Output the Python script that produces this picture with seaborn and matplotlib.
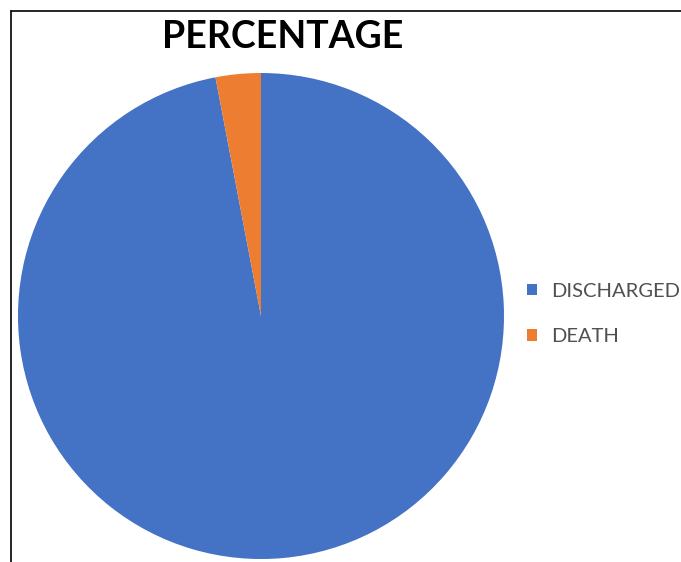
import matplotlib
matplotlib.use("Agg")
import matplotlib.pyplot as plt
from matplotlib.lines import Line2D
from matplotlib.patches import Patch
import seaborn as sns

categories = ["DISCHARGED", "DEATH"]
percentages = [97, 3]
title = "PERCENTAGE"

sns.set_theme(style="white")
plt.rcParams["font.family"] = ["Lato", "DejaVu Sans"]
colors = ["#4472C4", "#ED7D31"]

fig = plt.figure(figsize=(6.81, 5.62), dpi=100)
ax = fig.add_axes([0.0264, 0.0053, 0.7137, 0.8648])
wedges, _ = ax.pie(percentages, colors=colors, startangle=90, counterclock=False,
                   wedgeprops=dict(linewidth=0))
ax.set_xlim(-1, 1)
ax.set_ylim(-1, 1)
ax.set_aspect("equal")
ax.axis("off")

fig.text(283 / 681, 1 - 37 / 562, title, ha="center", va="center",
         fontsize=27, fontweight="bold", color="black")

handles = [Patch(facecolor=c, edgecolor="none") for c in colors]
fig.legend(handles, categories, loc="center left",
           bbox_to_anchor=(527 / 681, 1 - 314 / 562), frameon=False,
           fontsize=14.5, labelcolor="#505050", handlelength=0.5, handleheight=0.5,
           handletextpad=0.7, labelspacing=1.4, borderpad=0, borderaxespad=0)

# frame around the chart area
x0 = 11 / 681
y0 = 1 - 11 / 562
fig.add_artist(Line2D([x0, x0], [y0, 0], color="black", linewidth=1.2, transform=fig.transFigure))
fig.add_artist(Line2D([x0, 1], [y0, y0], color="black", linewidth=1.2, transform=fig.transFigure))

fig.savefig("out.png", dpi=100)
